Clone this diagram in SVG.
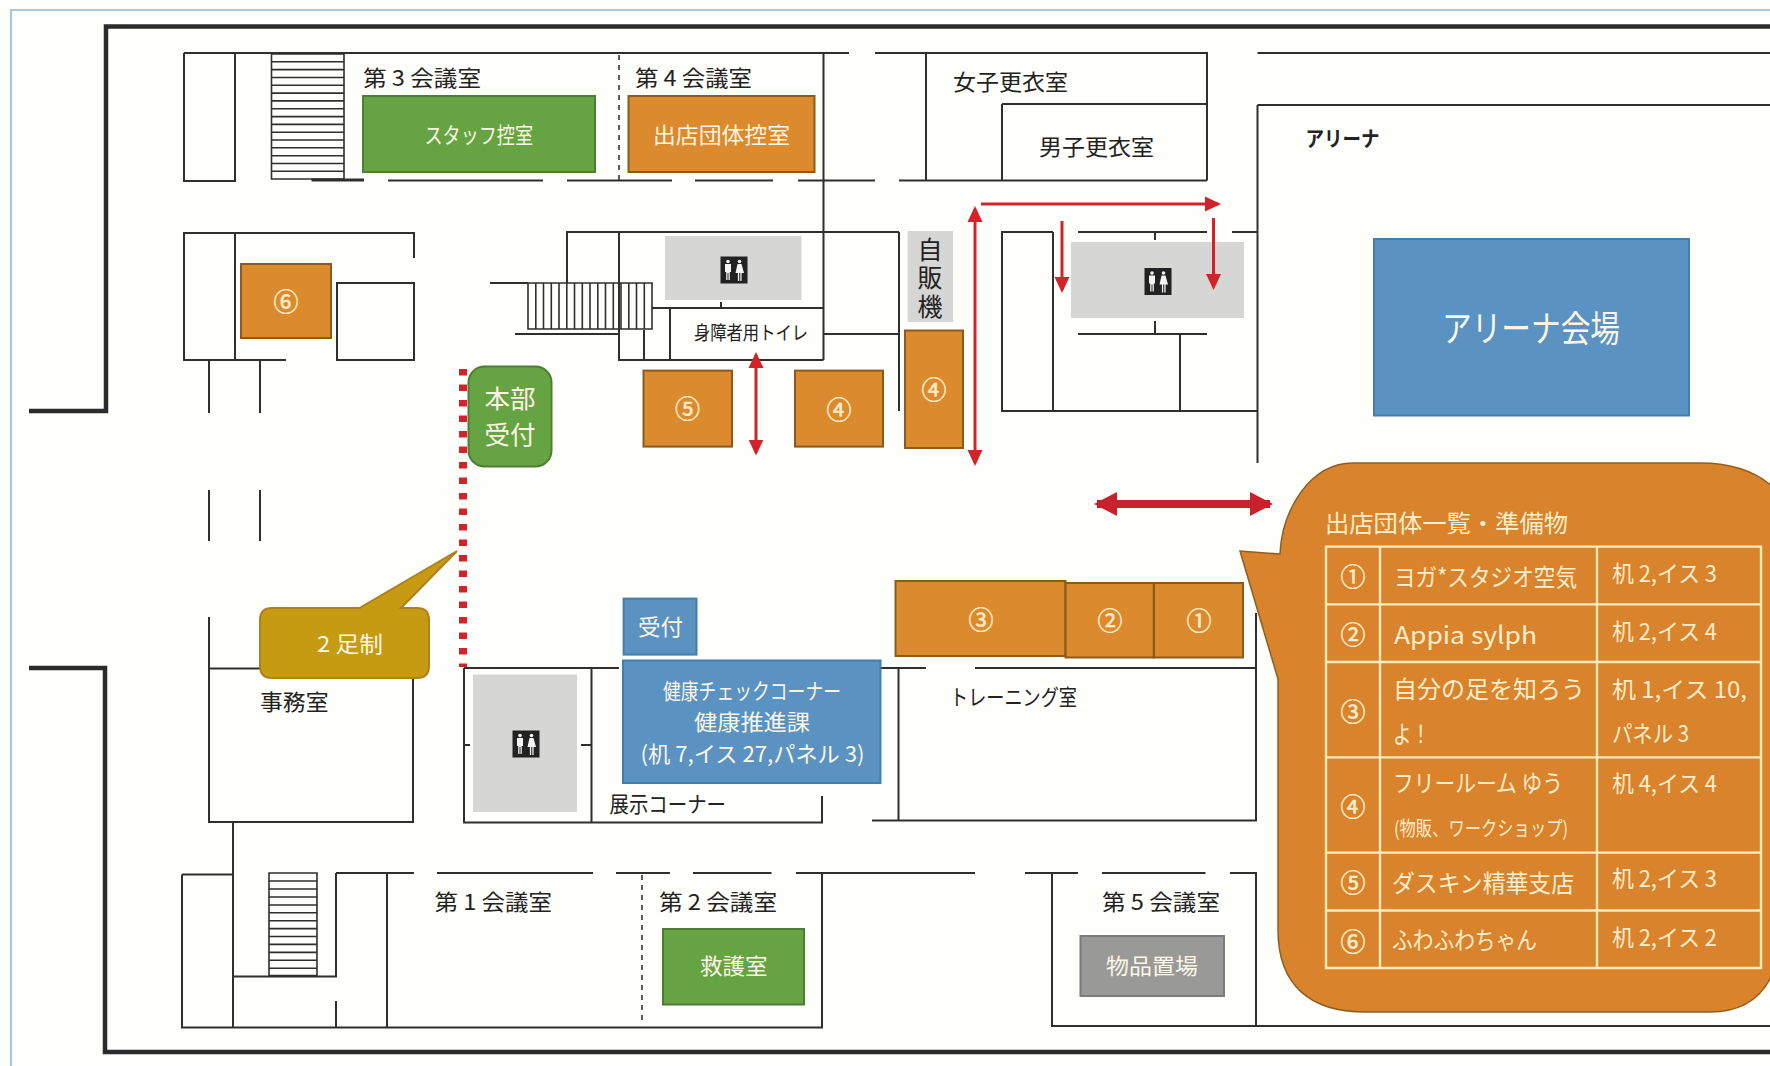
<svg xmlns="http://www.w3.org/2000/svg" width="1770" height="1066" viewBox="0 0 1770 1066">
<style>
text{font-family:"Noto Sans CJK JP","Noto Sans",sans-serif;font-size:22px;fill:#222}
.w text,text.w{fill:#fdf6e6}
.c{fill:#fdeecb;font-size:25px;text-anchor:middle;stroke:#fdeecb;stroke-width:.5}
.t{fill:#fdeecb;font-size:24px}
.wall{fill:none;stroke:#2b2b2b;stroke-width:4.5}
.ln{fill:none;stroke:#2f2f2f;stroke-width:2}
.st{fill:none;stroke:#2f2f2f;stroke-width:1.6}
.dash{fill:none;stroke:#333;stroke-width:1.6;stroke-dasharray:5 5}
.or{fill:#dc8a2e;stroke:#8a5a1e;stroke-width:2}
.gr{fill:#66a443;stroke:#4c7f34;stroke-width:2}
.bl{fill:#5a93c1;stroke:#437fab;stroke-width:2}
.gy{fill:#d6d6d4}
.ra{stroke:#d2232a;stroke-width:3;fill:none;marker-end:url(#ah);marker-start:none}
.grid{fill:none;stroke:#fdeab8;stroke-width:2.4}
</style>
<defs>
<marker id="ah" markerUnits="userSpaceOnUse" markerWidth="18" markerHeight="16" refX="13" refY="8" orient="auto-start-reverse"><path d="M0,0.5 L16,8 L0,15.5z" fill="#d2232a"/></marker>
<marker id="ab" markerUnits="userSpaceOnUse" markerWidth="26" markerHeight="26" refX="20" refY="13" orient="auto-start-reverse"><path d="M0,1 L23,13 L0,25z" fill="#c9202e"/></marker>
<g id="wc">
<rect x="-13.5" y="-13.5" width="27" height="27" fill="#222"/>
<g fill="#f4f4f4"><circle cx="-6" cy="-8.5" r="1.8"/><path d="M-9,-6h6v8h-1.2v8h-1.3v-7h-1v7h-1.3v-8h-1.2z"/><circle cx="5.5" cy="-8.5" r="1.8"/><path d="M3.5,-6h4l2.5,9h-2.4v8h-1.3v-8h-1.1v8h-1.3v-8h-2.4z"/></g>
</g>
</defs>
<rect width="1770" height="1066" fill="#fefefa"/>
<path d="M11,1066V10H1770" fill="none" stroke="#a9c7dd" stroke-width="2.2"/>

<g id="walls">
<path class="wall" d="M29,411H106V26.5H1770"/>
<path class="wall" d="M29,668H105V1052H1770"/>
<!-- top row -->
<path class="ln" d="M235,53H849M875,53H1207V180.5M184,53V181H235V53M926,53V180.5M1002,104H1207M1002,104V180.5M1257.5,53H1770M1257.5,105H1770M1257.5,105V463"/>
<path class="ln" d="M184,53H235M388,180.5H543M567,180.5H672M695,180.5H773M798,180.5H875M899,180.5H1207" />
<path fill="none" stroke="#2f2f2f" stroke-width="3" d="M311.5,180H364"/>
<path class="ln" d="M823.5,53V360"/>
<path class="dash" d="M619,55V180"/>
<!-- upper left room -->
<path class="ln" d="M414,258V233H184V360H286M235,233V360M337,283H414V360H337ZM209,360V413M260,360V413M209,490V541M260,490V541"/>
<!-- mid block -->
<path class="ln" d="M567,283V232H899M899,232V411M619,232V360H823.5M490,283H528M515,334H619M652,308H823.5M721,302V308M644,330V360M670,309V360M823.5,334H899"/>
<!-- right mid block -->
<path class="ln" d="M1053,232H1002V411H1257.5M1053,232V411M1078,232H1207M1232,232H1257.5M1155,232V240M1155,321V334M1078,334H1207M1180,334V411"/>
<!-- office -->
<path class="ln" d="M209,617V822H413V679M209,668.500H262M464,668H619M464,668V822.500H822V796M591.500,668V822.500M464,745H470M581,745H591.500"/>
<!-- training -->
<path class="ln" d="M881,668H926M975,668H1256M898.500,668V820.500M872,820.500H1256V613"/>
<!-- bottom row -->
<path class="ln" d="M233,823V1027.500M182,874.500H233M182,874.500V1027.500H822V873M336,873V976.500H233M336,1001V1027.500M336,873H414M437,873H593M616,873H670M693,873H771.500M796,873H975M387,873V1027.500M1025,873H1078M1102,873H1205.500M1230,873H1256V1026M1052,873V1026H1770"/>
<path class="dash" d="M642,875V1022"/>
</g>

<g id="stairs">
<path class="st" stroke-width="2" d="M271.5,54V179H344V54M271.5,54H344M271.5,61.8H344M271.5,69.6H344M271.5,77.5H344M271.5,85.3H344M271.5,93.1H344M271.5,100.9H344M271.5,108.7H344M271.5,116.6H344M271.5,124.4H344M271.5,132.2H344M271.5,140H344M271.5,147.8H344M271.5,155.7H344M271.5,163.5H344M271.5,171.3H344"/>
<path class="st" d="M528,283H652V329H528ZM535.8,283V329M543.5,283V329M551.3,283V329M559,283V329M566.8,283V329M574.5,283V329M582.3,283V329M590,283V329M597.8,283V329M605.5,283V329M613.3,283V329M621,283V329M628.8,283V329M636.5,283V329M644.3,283V329"/>
<path class="st" d="M269,873H317V975.500H269ZM269,881H317M269,889H317M269,897H317M269,905H317M269,912.8H317M269,920.7H317M269,928.6H317M269,936.5H317M269,944.4H317M269,952.4H317M269,960.3H317M269,968.2H317"/>
</g>

<g id="toilets">
<rect class="gy" x="665" y="236" width="136.500" height="64"/><use href="#wc" x="734" y="270"/>
<rect class="gy" x="1071" y="242" width="173" height="76"/><use href="#wc" x="1158" y="281.500"/>
<rect class="gy" x="473" y="674.500" width="104" height="137.500"/><use href="#wc" x="526" y="744"/>
</g>

<g id="labels">
<text x="363" y="85.500" textLength="118" lengthAdjust="spacingAndGlyphs">第 3 会議室</text>
<text x="635" y="86" textLength="117" lengthAdjust="spacingAndGlyphs">第 4 会議室</text>
<text x="953" y="90" textLength="115" lengthAdjust="spacingAndGlyphs">女子更衣室</text>
<text x="1039" y="155" textLength="115" lengthAdjust="spacingAndGlyphs">男子更衣室</text>
<text x="694" y="340" style="font-size:19px" textLength="114" lengthAdjust="spacingAndGlyphs">身障者用トイレ</text>
<text x="1305.500" y="146" style="font-size:21px;font-weight:700" textLength="74" lengthAdjust="spacingAndGlyphs">アリーナ</text>
<text x="260" y="710" textLength="68.500" lengthAdjust="spacingAndGlyphs">事務室</text>
<text x="609.500" y="812" textLength="116.500" lengthAdjust="spacingAndGlyphs">展示コーナー</text>
<text x="950" y="705" textLength="127" lengthAdjust="spacingAndGlyphs">トレーニング室</text>
<text x="434.600" y="910" textLength="117.400" lengthAdjust="spacingAndGlyphs">第 1 会議室</text>
<text x="659" y="910" textLength="118" lengthAdjust="spacingAndGlyphs">第 2 会議室</text>
<text x="1102" y="910" textLength="118" lengthAdjust="spacingAndGlyphs">第 5 会議室</text>
</g>

<g id="vending">
<rect class="gy" x="907.600" y="231" width="45.400" height="91"/>
<text x="930" y="236.500" style="font-size:25px;writing-mode:vertical-rl;letter-spacing:3.5px">自販機</text>
</g>

<g id="staff"><rect class="gr" x="363" y="96" width="232" height="76"/><text class="w" x="424.500" y="142.500" textLength="108.500" lengthAdjust="spacingAndGlyphs">スタッフ控室</text></g>
<g id="shop-room"><rect class="or" x="628.500" y="96" width="186" height="76"/><text class="w" x="653" y="142.500" textLength="137" lengthAdjust="spacingAndGlyphs">出店団体控室</text></g>
<g id="hq"><rect class="gr" x="468.500" y="366.500" width="83" height="100" rx="16"/><text class="w" x="510" y="407.500" style="font-size:25px;text-anchor:middle" textLength="51" lengthAdjust="spacingAndGlyphs">本部</text><text class="w" x="510" y="444" style="font-size:25px;text-anchor:middle" textLength="51" lengthAdjust="spacingAndGlyphs">受付</text></g>

<g id="booth6"><rect class="or" x="241" y="264" width="90" height="74"/><text class="c" x="286" y="311">⑥</text></g>
<g id="booth5"><rect class="or" x="643.500" y="370.600" width="88.500" height="76"/><text class="c" x="687.500" y="418">⑤</text></g>
<g id="booth4a"><rect class="or" x="795" y="370.600" width="88" height="76"/><text class="c" x="839" y="418.500">④</text></g>
<g id="booth4b"><rect class="or" x="905" y="330.500" width="58" height="117.500"/><text class="c" x="934" y="398.500">④</text></g>
<g id="booth3"><rect class="or" x="895.500" y="581" width="170" height="75"/><text class="c" x="981" y="628.500">③</text></g>
<g id="booth2"><rect class="or" x="1065.600" y="583" width="88.100" height="74.500"/><text class="c" x="1110" y="629.500">②</text></g>
<g id="booth1"><rect class="or" x="1154" y="583" width="89" height="74.500"/><text class="c" x="1199" y="629.500">①</text></g>

<g id="arena"><rect class="bl" x="1374" y="239" width="315" height="176.500"/><text class="w" x="1442" y="342" style="font-size:36px" textLength="178" lengthAdjust="spacingAndGlyphs">アリーナ会場</text></g>
<g id="reception"><rect class="bl" x="623.600" y="598.600" width="72.900" height="56"/><text class="w" x="638" y="634.500" textLength="45" lengthAdjust="spacingAndGlyphs">受付</text></g>
<g id="health"><rect class="bl" x="623" y="660.500" width="257.500" height="122.500"/>
<text class="w" x="663" y="699" textLength="178" lengthAdjust="spacingAndGlyphs">健康チェックコーナー</text>
<text class="w" x="694" y="730" textLength="116" lengthAdjust="spacingAndGlyphs">健康推進課</text>
<text class="w" x="640.600" y="762" textLength="224" lengthAdjust="spacingAndGlyphs">(机 7,イス 27,パネル 3)</text></g>
<g id="rescue"><rect class="gr" x="663" y="929" width="141" height="75.500"/><text class="w" x="700" y="974" textLength="67.600" lengthAdjust="spacingAndGlyphs">救護室</text></g>
<g id="storage"><rect x="1080.500" y="936" width="143.500" height="60" fill="#999a98" stroke="#7b7b7b" stroke-width="2"/><text class="w" x="1106" y="974" textLength="92" lengthAdjust="spacingAndGlyphs">物品置場</text></g>

<g id="connectors">
<path d="M463,369V667" fill="none" stroke="#d2232a" stroke-width="8" stroke-dasharray="6.500 9"/>
<path class="ra" style="marker-start:url(#ah)" d="M756,355V452.600"/>
<path class="ra" style="marker-start:url(#ah)" d="M975,209V463"/>
<path class="ra" d="M981,204H1218"/>
<path class="ra" d="M1062,221V290"/>
<path class="ra" d="M1213.500,218V287"/>
<path d="M1097,504H1270" fill="none" stroke="#c9202e" stroke-width="8" marker-start="url(#ab)" marker-end="url(#ab)"/>
</g>

<g id="foot-callout">
<path d="M272,608H359.500L457,551L401,608H417Q429,608 429,620V666Q429,678 417,678H272Q260,678 260,666V620Q260,608 272,608Z" fill="#c69b12" stroke="#b07f20" stroke-width="2"/>
<text class="w" x="317" y="652" textLength="66" lengthAdjust="spacingAndGlyphs">2 足制</text>
</g>

<g id="list-callout">
<path d="M1353,463H1700Q1745,463 1772,486V975Q1755,1012 1710,1012H1365C1310,1012 1278,985 1278,930V679L1240,551L1280,554C1282,510 1310,463 1353,463Z" fill="#d9832c" stroke="#8f5f22" stroke-width="1.500"/>
<text class="t" x="1325" y="532" textLength="243" lengthAdjust="spacingAndGlyphs">出店団体一覧・準備物</text>
<path class="grid" d="M1326,546.600H1761V968H1326ZM1326,604.400H1761M1326,662H1761M1326,757.400H1761M1326,852.600H1761M1326,910.500H1761M1380,546.600V968M1597,546.600V968"/>
<text class="c" x="1353" y="586">①</text>
<text class="c" x="1353" y="644">②</text>
<text class="c" x="1353" y="721">③</text>
<text class="c" x="1353" y="816">④</text>
<text class="c" x="1353" y="892">⑤</text>
<text class="c" x="1353" y="951">⑥</text>
<text class="t" x="1394" y="586" textLength="183" lengthAdjust="spacingAndGlyphs">ヨガ*スタジオ空気</text>
<text class="t" x="1394" y="644" textLength="143" lengthAdjust="spacingAndGlyphs">Appia sylph</text>
<text class="t" x="1393" y="698" textLength="192" lengthAdjust="spacingAndGlyphs">自分の足を知ろう</text>
<text class="t" x="1393" y="743" textLength="37" lengthAdjust="spacingAndGlyphs">よ！</text>
<text class="t" x="1393" y="792" textLength="170" lengthAdjust="spacingAndGlyphs">フリールーム ゆう</text>
<text class="t" x="1394" y="836" style="font-size:20px" textLength="174" lengthAdjust="spacingAndGlyphs">(物販、ワークショップ)</text>
<text class="t" x="1392" y="892" textLength="182" lengthAdjust="spacingAndGlyphs">ダスキン精華支店</text>
<text class="t" x="1392" y="949" textLength="145" lengthAdjust="spacingAndGlyphs">ふわふわちゃん</text>
<text class="t" x="1612" y="582" style="font-size:23px" textLength="105" lengthAdjust="spacingAndGlyphs">机 2,イス 3</text>
<text class="t" x="1612" y="640" style="font-size:23px" textLength="105" lengthAdjust="spacingAndGlyphs">机 2,イス 4</text>
<text class="t" x="1612" y="698" style="font-size:23px" textLength="135" lengthAdjust="spacingAndGlyphs">机 1,イス 10,</text>
<text class="t" x="1612" y="742" style="font-size:23px" textLength="77" lengthAdjust="spacingAndGlyphs">パネル 3</text>
<text class="t" x="1612" y="792" style="font-size:23px" textLength="105" lengthAdjust="spacingAndGlyphs">机 4,イス 4</text>
<text class="t" x="1612" y="887" style="font-size:23px" textLength="105" lengthAdjust="spacingAndGlyphs">机 2,イス 3</text>
<text class="t" x="1612" y="946" style="font-size:23px" textLength="105" lengthAdjust="spacingAndGlyphs">机 2,イス 2</text>
</g>
</svg>
